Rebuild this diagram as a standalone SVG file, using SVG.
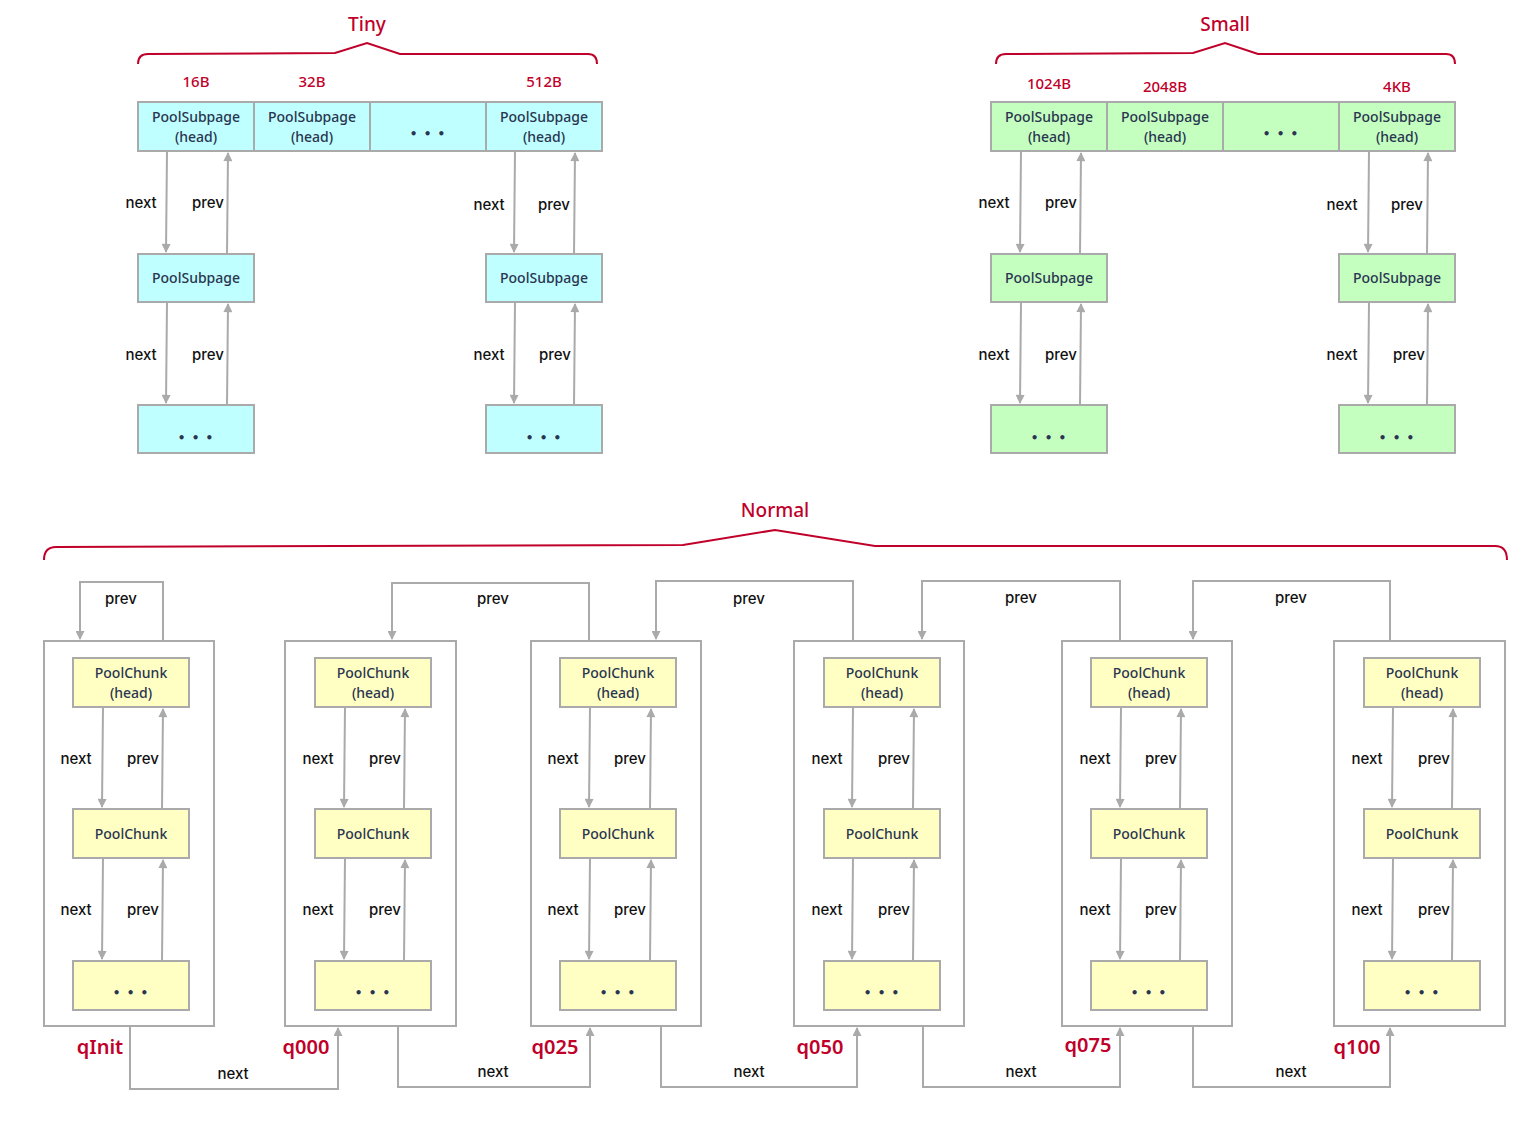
<svg xmlns="http://www.w3.org/2000/svg" width="1539" height="1123" viewBox="0 0 1539 1123">
<style>
.cy{fill:#bfffff;stroke:#aaa;stroke-width:2}
.gr{fill:#c4ffc0;stroke:#aaa;stroke-width:2}
.ye{fill:#ffffc4;stroke:#aaa;stroke-width:2}
.ct{fill:none;stroke:#aaa;stroke-width:2}
.bt{font-family:"Noto Sans","DejaVu Sans",sans-serif;font-size:14px;font-weight:500;fill:#2a3550;text-anchor:middle}
.dots{font-family:"DejaVu Sans",sans-serif;font-size:12px;font-weight:bold;fill:#2a3550;text-anchor:middle;letter-spacing:1px}
.lb{font-family:Inter,"Liberation Sans",sans-serif;font-size:15px;font-weight:500;fill:#111;text-anchor:middle}
.rd{font-family:"Noto Sans","Liberation Sans",sans-serif;font-size:19px;font-weight:500;fill:#c0002a;text-anchor:middle}
.rdb{font-family:"Noto Sans","Liberation Sans",sans-serif;font-size:20px;font-weight:600;fill:#c0002a;text-anchor:middle}
.rs{font-family:"Noto Sans","Liberation Sans",sans-serif;font-size:15px;font-weight:500;fill:#c0002a;text-anchor:middle}
.br{fill:none;stroke:#c0002a;stroke-width:2}
.ln{fill:none;stroke:#aaa;stroke-width:2;marker-end:url(#ah)}
</style>
<defs><marker id="ah" viewBox="0 0 10 10" refX="9" refY="5" markerWidth="11" markerHeight="9" orient="auto" markerUnits="userSpaceOnUse"><path d="M0,0 L10,5 L0,10 z" fill="#aaa"/></marker></defs>
<rect width="1539" height="1123" fill="#fff"/>
<g id="brackets">
<path class="br" d="M138,64 Q138,54 148,54 L335,53 L367,43 L400,54 L588,54 Q597,54 597,64"/>
<text class="rd" x="367" y="31">Tiny</text>
<path class="br" d="M996,64 Q996,54 1006,54 L1193,53 L1225,43 L1258,54 L1446,54 Q1455,54 1455,64"/>
<text class="rd" x="1225" y="31">Small</text>
<path class="br" d="M44,560 Q44,547 56,547 L683,545 L775,530 L875,546 L1495,546 Q1507,546 1507,560"/>
<text class="rd" x="775" y="517">Normal</text>
</g>
<g id="tiny">
<text class="rs" x="196" y="87">16B</text><text class="rs" x="312" y="87">32B</text><text class="rs" x="544" y="87">512B</text>
<rect class="cy" x="138" y="102" width="116" height="49"/><text class="bt" x="196" y="122">PoolSubpage</text><text class="bt" x="196" y="142">(head)</text>
<rect class="cy" x="254" y="102" width="116" height="49"/><text class="bt" x="312" y="122">PoolSubpage</text><text class="bt" x="312" y="142">(head)</text>
<rect class="cy" x="370" y="102" width="116" height="49"/><text class="dots" x="428" y="138">• • •</text>
<rect class="cy" x="486" y="102" width="116" height="49"/><text class="bt" x="544" y="122">PoolSubpage</text><text class="bt" x="544" y="142">(head)</text>
<rect class="cy" x="138" y="254" width="116" height="48"/><text class="bt" x="196" y="283">PoolSubpage</text>
<rect class="cy" x="486" y="254" width="116" height="48"/><text class="bt" x="544" y="283">PoolSubpage</text>
<rect class="cy" x="138" y="405" width="116" height="48"/><text class="dots" x="196" y="442">• • •</text>
<rect class="cy" x="486" y="405" width="116" height="48"/><text class="dots" x="544" y="442">• • •</text>
</g>
<g id="small">
<text class="rs" x="1049" y="89">1024B</text><text class="rs" x="1165" y="92">2048B</text><text class="rs" x="1397" y="92">4KB</text>
<rect class="gr" x="991" y="102" width="116" height="49"/><text class="bt" x="1049" y="122">PoolSubpage</text><text class="bt" x="1049" y="142">(head)</text>
<rect class="gr" x="1107" y="102" width="116" height="49"/><text class="bt" x="1165" y="122">PoolSubpage</text><text class="bt" x="1165" y="142">(head)</text>
<rect class="gr" x="1223" y="102" width="116" height="49"/><text class="dots" x="1281" y="138">• • •</text>
<rect class="gr" x="1339" y="102" width="116" height="49"/><text class="bt" x="1397" y="122">PoolSubpage</text><text class="bt" x="1397" y="142">(head)</text>
<rect class="gr" x="991" y="254" width="116" height="48"/><text class="bt" x="1049" y="283">PoolSubpage</text>
<rect class="gr" x="1339" y="254" width="116" height="48"/><text class="bt" x="1397" y="283">PoolSubpage</text>
<rect class="gr" x="991" y="405" width="116" height="48"/><text class="dots" x="1049" y="442">• • •</text>
<rect class="gr" x="1339" y="405" width="116" height="48"/><text class="dots" x="1397" y="442">• • •</text>
</g>
<g id="subpage-links">
<path class="ln" d="M167,151 L166,252"/><path class="ln" d="M227,254 L228,153"/>
<path class="ln" d="M167,302 L166,403"/><path class="ln" d="M227,405 L228,304"/>
<path class="ln" d="M515,151 L514,252"/><path class="ln" d="M574,254 L575,153"/>
<path class="ln" d="M515,302 L514,403"/><path class="ln" d="M574,405 L575,304"/>
<path class="ln" d="M1021,151 L1020,252"/><path class="ln" d="M1080,254 L1081,153"/>
<path class="ln" d="M1021,302 L1020,403"/><path class="ln" d="M1080,405 L1081,304"/>
<path class="ln" d="M1369,151 L1368,252"/><path class="ln" d="M1427,254 L1428,153"/>
<path class="ln" d="M1369,302 L1368,403"/><path class="ln" d="M1427,405 L1428,304"/>
<text class="lb" x="141" y="208">next</text><text class="lb" x="208" y="208">prev</text>
<text class="lb" x="141" y="360">next</text><text class="lb" x="208" y="360">prev</text>
<text class="lb" x="489" y="210">next</text><text class="lb" x="554" y="210">prev</text>
<text class="lb" x="489" y="360">next</text><text class="lb" x="555" y="360">prev</text>
<text class="lb" x="994" y="208">next</text><text class="lb" x="1061" y="208">prev</text>
<text class="lb" x="994" y="360">next</text><text class="lb" x="1061" y="360">prev</text>
<text class="lb" x="1342" y="210">next</text><text class="lb" x="1407" y="210">prev</text>
<text class="lb" x="1342" y="360">next</text><text class="lb" x="1409" y="360">prev</text>
</g>
<g id="qInit">
<rect class="ct" x="44" y="641" width="170" height="385"/>
<rect class="ye" x="73" y="658" width="116" height="49"/><text class="bt" x="131" y="678">PoolChunk</text><text class="bt" x="131" y="698">(head)</text>
<rect class="ye" x="73" y="809" width="116" height="49"/><text class="bt" x="131" y="839">PoolChunk</text>
<rect class="ye" x="73" y="961" width="116" height="49"/><text class="dots" x="131" y="997">• • •</text>
<text class="rdb" x="100" y="1054">qInit</text>
</g>
<g id="q000">
<rect class="ct" x="285" y="641" width="171" height="385"/>
<rect class="ye" x="315" y="658" width="116" height="49"/><text class="bt" x="373" y="678">PoolChunk</text><text class="bt" x="373" y="698">(head)</text>
<rect class="ye" x="315" y="809" width="116" height="49"/><text class="bt" x="373" y="839">PoolChunk</text>
<rect class="ye" x="315" y="961" width="116" height="49"/><text class="dots" x="373" y="997">• • •</text>
<text class="rdb" x="306" y="1054">q000</text>
</g>
<g id="q025">
<rect class="ct" x="531" y="641" width="170" height="385"/>
<rect class="ye" x="560" y="658" width="116" height="49"/><text class="bt" x="618" y="678">PoolChunk</text><text class="bt" x="618" y="698">(head)</text>
<rect class="ye" x="560" y="809" width="116" height="49"/><text class="bt" x="618" y="839">PoolChunk</text>
<rect class="ye" x="560" y="961" width="116" height="49"/><text class="dots" x="618" y="997">• • •</text>
<text class="rdb" x="555" y="1054">q025</text>
</g>
<g id="q050">
<rect class="ct" x="794" y="641" width="170" height="385"/>
<rect class="ye" x="824" y="658" width="116" height="49"/><text class="bt" x="882" y="678">PoolChunk</text><text class="bt" x="882" y="698">(head)</text>
<rect class="ye" x="824" y="809" width="116" height="49"/><text class="bt" x="882" y="839">PoolChunk</text>
<rect class="ye" x="824" y="961" width="116" height="49"/><text class="dots" x="882" y="997">• • •</text>
<text class="rdb" x="820" y="1054">q050</text>
</g>
<g id="q075">
<rect class="ct" x="1062" y="641" width="170" height="385"/>
<rect class="ye" x="1091" y="658" width="116" height="49"/><text class="bt" x="1149" y="678">PoolChunk</text><text class="bt" x="1149" y="698">(head)</text>
<rect class="ye" x="1091" y="809" width="116" height="49"/><text class="bt" x="1149" y="839">PoolChunk</text>
<rect class="ye" x="1091" y="961" width="116" height="49"/><text class="dots" x="1149" y="997">• • •</text>
<text class="rdb" x="1088" y="1052">q075</text>
</g>
<g id="q100">
<rect class="ct" x="1334" y="641" width="171" height="385"/>
<rect class="ye" x="1364" y="658" width="116" height="49"/><text class="bt" x="1422" y="678">PoolChunk</text><text class="bt" x="1422" y="698">(head)</text>
<rect class="ye" x="1364" y="809" width="116" height="49"/><text class="bt" x="1422" y="839">PoolChunk</text>
<rect class="ye" x="1364" y="961" width="116" height="49"/><text class="dots" x="1422" y="997">• • •</text>
<text class="rdb" x="1357" y="1054">q100</text>
</g>
<g id="connectors">
<path class="ln" d="M103,707 L102,807"/><path class="ln" d="M162,809 L163,709"/>
<path class="ln" d="M103,858 L102,959"/><path class="ln" d="M162,961 L163,860"/>
<path class="ln" d="M345,707 L344,807"/><path class="ln" d="M404,809 L405,709"/>
<path class="ln" d="M345,858 L344,959"/><path class="ln" d="M404,961 L405,860"/>
<path class="ln" d="M590,707 L589,807"/><path class="ln" d="M650,809 L651,709"/>
<path class="ln" d="M590,858 L589,959"/><path class="ln" d="M650,961 L651,860"/>
<path class="ln" d="M853,707 L852,807"/><path class="ln" d="M913,809 L914,709"/>
<path class="ln" d="M853,858 L852,959"/><path class="ln" d="M913,961 L914,860"/>
<path class="ln" d="M1121,707 L1120,807"/><path class="ln" d="M1180,809 L1181,709"/>
<path class="ln" d="M1121,858 L1120,959"/><path class="ln" d="M1180,961 L1181,860"/>
<path class="ln" d="M1393,707 L1392,807"/><path class="ln" d="M1452,809 L1453,709"/>
<path class="ln" d="M1393,858 L1392,959"/><path class="ln" d="M1452,961 L1453,860"/>
<g>
<text class="lb" x="76" y="764">next</text><text class="lb" x="143" y="764">prev</text><text class="lb" x="76" y="915">next</text><text class="lb" x="143" y="915">prev</text>
<text class="lb" x="318" y="764">next</text><text class="lb" x="385" y="764">prev</text><text class="lb" x="318" y="915">next</text><text class="lb" x="385" y="915">prev</text>
<text class="lb" x="563" y="764">next</text><text class="lb" x="630" y="764">prev</text><text class="lb" x="563" y="915">next</text><text class="lb" x="630" y="915">prev</text>
<text class="lb" x="827" y="764">next</text><text class="lb" x="894" y="764">prev</text><text class="lb" x="827" y="915">next</text><text class="lb" x="894" y="915">prev</text>
<text class="lb" x="1095" y="764">next</text><text class="lb" x="1161" y="764">prev</text><text class="lb" x="1095" y="915">next</text><text class="lb" x="1161" y="915">prev</text>
<text class="lb" x="1367" y="764">next</text><text class="lb" x="1434" y="764">prev</text><text class="lb" x="1367" y="915">next</text><text class="lb" x="1434" y="915">prev</text>
</g>
<path class="ln" d="M163,641 L163,582 L80,582 L80,639"/>
<path class="ln" d="M589,641 L589,583 L392,583 L392,639"/>
<path class="ln" d="M853,641 L853,581 L656,581 L656,639"/>
<path class="ln" d="M1120,641 L1120,581 L922,581 L922,639"/>
<path class="ln" d="M1390,641 L1390,581 L1193,581 L1193,639"/>
<text class="lb" x="121" y="604">prev</text><text class="lb" x="493" y="604">prev</text><text class="lb" x="749" y="604">prev</text><text class="lb" x="1021" y="603">prev</text><text class="lb" x="1291" y="603">prev</text>
<path class="ln" d="M130,1026 L130,1089 L338,1089 L338,1028"/>
<path class="ln" d="M398,1026 L398,1087 L590,1087 L590,1028"/>
<path class="ln" d="M661,1026 L661,1087 L857,1087 L857,1028"/>
<path class="ln" d="M923,1026 L923,1087 L1120,1087 L1120,1028"/>
<path class="ln" d="M1193,1026 L1193,1087 L1390,1087 L1390,1028"/>
<text class="lb" x="233" y="1079">next</text><text class="lb" x="493" y="1077">next</text><text class="lb" x="749" y="1077">next</text><text class="lb" x="1021" y="1077">next</text><text class="lb" x="1291" y="1077">next</text>
</g>
</svg>
